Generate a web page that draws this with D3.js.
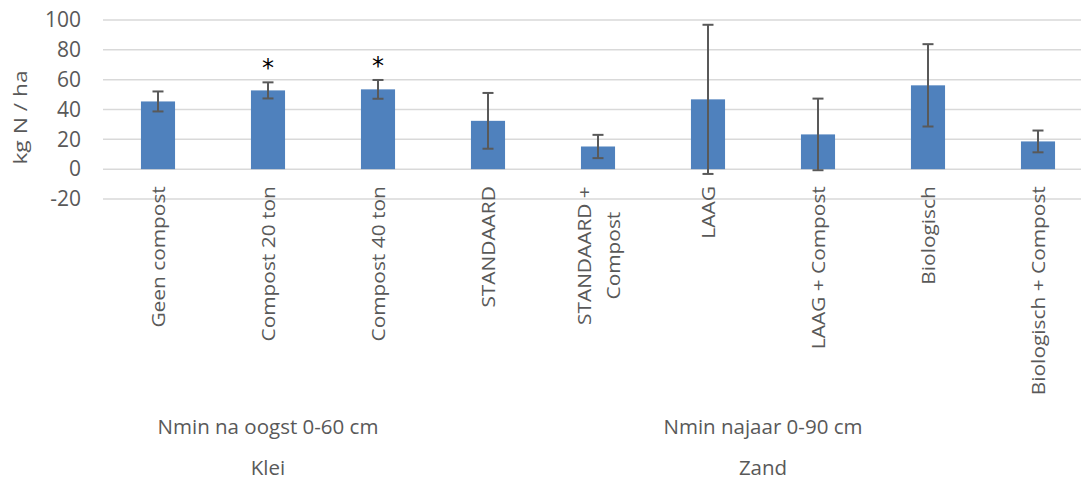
<!DOCTYPE html>
<html>
<head>
<meta charset="utf-8">
<script src="https://cdn.jsdelivr.net/npm/d3@7"></script>
<style>
  body { margin: 0; background: #fff; }
  svg { display: block; font-family: "Open Sans", sans-serif; }
</style>
</head>
<body>
<div class="chart"></div>
<script>
// data
const categories = ["Geen compost", "Compost 20 ton", "Compost 40 ton", "STANDAARD",
  "STANDAARD +\nCompost", "LAAG", "LAAG + Compost", "Biologisch", "Biologisch + Compost"];
const values = [45.4, 52.8, 53.5, 32.4, 15.2, 46.8, 23.3, 56.2, 18.6];
const errors = [6.7, 5.4, 6.3, 18.7, 7.8, 50, 24, 27.6, 7.3];
const marks = ["", "*", "*", "", "", "", "", "", ""];
const period = ["Nmin na oogst 0-60 cm", "Nmin na oogst 0-60 cm", "Nmin na oogst 0-60 cm",
  "Nmin najaar 0-90 cm", "Nmin najaar 0-90 cm", "Nmin najaar 0-90 cm",
  "Nmin najaar 0-90 cm", "Nmin najaar 0-90 cm", "Nmin najaar 0-90 cm"];
const soil = ["Klei", "Klei", "Klei", "Zand", "Zand", "Zand", "Zand", "Zand", "Zand"];
const yTicks = [-20, 0, 20, 40, 60, 80, 100];

const W = 1081, H = 482;
const plot = {left: 103, right: 1093, top: 20, bottom: 199};
const textColor = "#595959";

const svg = d3.select(".chart").append("svg")
    .attr("width", W)
    .attr("height", H);

// Scaling
const xScale = d3.scaleBand()
    .domain(d3.range(categories.length))
    .range([plot.left, plot.right])
    .paddingInner(0.69)
    .paddingOuter(0.345);
const yScale = d3.scaleLinear()
    .domain([-20, 100])
    .range([plot.bottom, plot.top]);
const cx = i => xScale(i) + xScale.bandwidth() / 2;

// gridlines
svg.append("g")
  .selectAll("line")
  .data(yTicks)
  .join("line")
    .attr("x1", plot.left)
    .attr("x2", plot.right)
    .attr("y1", d => yScale(d))
    .attr("y2", d => yScale(d))
    .attr("stroke", "#d9d9d9")
    .attr("stroke-width", 1.5);

// y axis labels
const yAxis = d3.axisLeft(yScale).tickValues(yTicks).tickFormat(d => String(d)).tickSize(0).tickPadding(0);
svg.append("g")
    .attr("transform", "translate(81,0)")
    .call(yAxis)
    .call(g => g.select(".domain").remove())
    .call(g => g.selectAll("text")
        .attr("fill", textColor)
        .attr("font-family", "Open Sans")
        .attr("font-size", 21));

svg.append("text")
    .attr("transform", "translate(27," + ((plot.top + plot.bottom) / 2 + 8) + ") rotate(-90) scale(1.2,1)")
    .attr("text-anchor", "middle")
    .attr("fill", textColor)
    .attr("font-size", 19)
    .text("kg N / ha");

// bars
const idx = d3.range(categories.length);
svg.append("g")
  .selectAll("rect")
  .data(idx)
  .join("rect")
    .attr("x", i => xScale(i))
    .attr("width", xScale.bandwidth())
    .attr("y", i => yScale(Math.max(0, values[i])))
    .attr("height", i => Math.abs(yScale(values[i]) - yScale(0)))
    .attr("fill", "#4f81bd");

// error bars
const err = svg.append("g")
    .attr("stroke", "#595959")
    .attr("stroke-width", 2);
err.selectAll(".stem")
  .data(idx)
  .join("line")
    .attr("class", "stem")
    .attr("x1", cx).attr("x2", cx)
    .attr("y1", i => yScale(values[i] + errors[i]))
    .attr("y2", i => yScale(values[i] - errors[i]));
err.selectAll(".cap")
  .data(idx.flatMap(i => [[i, 1], [i, -1]]))
  .join("line")
    .attr("class", "cap")
    .attr("x1", d => cx(d[0]) - 5.5)
    .attr("x2", d => cx(d[0]) + 5.5)
    .attr("y1", d => yScale(values[d[0]] + d[1] * errors[d[0]]))
    .attr("y2", d => yScale(values[d[0]] + d[1] * errors[d[0]]));

// significance marks
svg.append("g")
  .selectAll("text")
  .data(idx.filter(i => marks[i]))
  .join("text")
    .attr("x", cx)
    .attr("y", i => yScale(values[i] + errors[i]) - 17)
    .attr("dy", "0.45em")
    .attr("text-anchor", "middle")
    .attr("font-family", "DejaVu Sans")
    .attr("font-size", 24)
    .attr("fill", "#000")
    .text(i => marks[i]);

// category labels (rotated, starting just below the zero line)
const labelTop = yScale(0) + 17;
const stretch = 1.16, lineH = 29;
const labels = svg.append("g")
    .attr("fill", textColor)
    .attr("font-size", 18);
idx.forEach(i => {
  const lines = categories[i].split("\n");
  const g = labels.append("g");
  const texts = lines.map((l, j) => g.append("text")
      .attr("dy", "0.35em")
      .attr("text-anchor", "middle")
      .text(l));
  const maxLen = d3.max(texts, t => t.node().getComputedTextLength()) * stretch;
  texts.forEach((t, j) => {
    const off = (j - (lines.length - 1) / 2) * lineH + 1;
    t.attr("transform", "translate(" + (cx(i) + off) + "," + (labelTop + maxLen / 2) + ") rotate(-90) scale(" + stretch + ",1)");
  });
});

// multi-level group labels
function groupLabels(keys, y) {
  const groups = d3.groups(idx, i => keys[i]);
  svg.append("g")
    .selectAll("text")
    .data(groups)
    .join("text")
      .attr("x", d => (cx(d3.min(d[1])) + cx(d3.max(d[1]))) / 2)
      .attr("y", y)
      .attr("text-anchor", "middle")
      .attr("fill", textColor)
      .attr("font-size", 20.5)
      .text(d => d[0]);
}
groupLabels(period, 434);
groupLabels(soil, 475);
</script>
</body>
</html>
